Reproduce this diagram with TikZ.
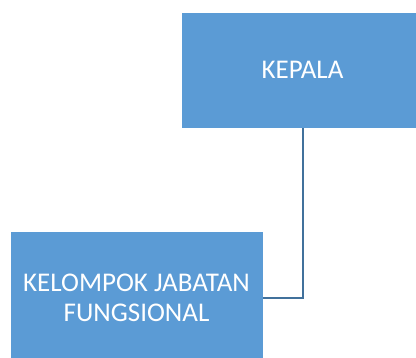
\documentclass[tikz,border=0pt]{standalone}
\usepackage{fontspec}
\setmainfont{Carlito}
\usepackage{xcolor}
\usetikzlibrary{positioning}
\definecolor{boxblue}{HTML}{5B9BD5}
\definecolor{lineblue}{HTML}{41719C}

\begin{document}
\begin{tikzpicture}[x=1pt, y=1pt,
		unitbox/.style={fill=boxblue, draw=white, line width=0.6pt, inner sep=0pt,
			text=white, align=center, font=\fontsize{27}{30}\selectfont},
		link/.style={draw=lineblue, line width=2pt}]
		\useasboundingbox (0,0) rectangle (416,358);
		\begin{scope}
			\clip (0,0) rectangle (416,358);
			\node[unitbox, minimum width=243, minimum height=116] (kepala) at (302.5, 288) {KEPALA};
			\node[unitbox, minimum width=253, minimum height=134] (fungsional) at (136.5, 60) {KELOMPOK JABATAN\\FUNGSIONAL};
		\end{scope}
		\draw[link] (kepala.south) |- (fungsional.east);
	\end{tikzpicture}
\end{document}
